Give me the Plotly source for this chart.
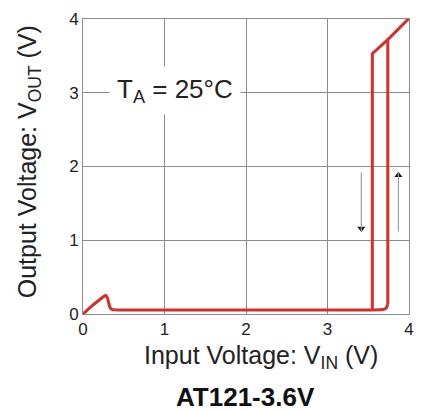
import plotly.graph_objects as go

# Rising input sweep (V_IN increasing): low-output part, then the switch-on part
vin_up_low = [0.0, 0.05, 0.12, 0.20, 0.25, 0.28, 0.30, 0.33, 0.36, 0.45, 1.0, 2.0, 3.0, 3.55,
              3.68, 3.72, 3.74]
vout_up_low = [0.0, 0.05, 0.12, 0.19, 0.235, 0.25, 0.22, 0.09, 0.06, 0.055, 0.055, 0.055, 0.055, 0.055,
               0.06, 0.08, 0.13]
vin_up_high = [3.74, 3.74, 4.0]
vout_up_high = [0.13, 3.72, 4.01]
# Falling input sweep (V_IN decreasing)
vin_down = [3.74, 3.55, 3.55]
vout_down = [3.72, 3.53, 0.055]

x_ticks = [0, 1, 2, 3, 4]
y_ticks = [0, 1, 2, 3, 4]

# hysteresis direction arrows (x, y_start, y_end)
arrow_down = (3.415, 1.92, 1.12)
arrow_up = (3.87, 1.12, 1.92)

RED = "#d3302c"
GRID = "#8c8c8c"
FONT = "Arial, Liberation Sans, sans-serif"

fig = go.Figure()
fig.add_trace(go.Scatter(x=vin_up_low, y=vout_up_low, mode="lines",
                         line=dict(color=RED, width=3, shape="spline", smoothing=0.3),
                         showlegend=False, hoverinfo="skip"))
fig.add_trace(go.Scatter(x=vin_up_high, y=vout_up_high, mode="lines",
                         line=dict(color=RED, width=3), showlegend=False, hoverinfo="skip"))
fig.add_trace(go.Scatter(x=vin_down, y=vout_down, mode="lines",
                         line=dict(color=RED, width=3), showlegend=False, hoverinfo="skip"))

for (ax_x, y0, y1) in (arrow_down, arrow_up):
    fig.add_shape(type="line", x0=ax_x, x1=ax_x, y0=y0, y1=y1,
                  line=dict(color="#a0a0a0", width=1.2), layer="above")
fig.add_trace(go.Scatter(x=[arrow_down[0]], y=[arrow_down[2] + 0.04], mode="markers",
                         marker=dict(symbol="triangle-down", size=7, color="#111"),
                         showlegend=False, hoverinfo="skip"))
fig.add_trace(go.Scatter(x=[arrow_up[0]], y=[arrow_up[2] - 0.04], mode="markers",
                         marker=dict(symbol="triangle-up", size=7, color="#111"),
                         showlegend=False, hoverinfo="skip"))

fig.add_annotation(x=1.13, y=3.03, xref="x", yref="y",
                   text="T<sub>A</sub> = 25°C", showarrow=False,
                   font=dict(family=FONT, size=26, color="#222"),
                   bgcolor="white", borderpad=7)

fig.add_annotation(x=0.547, y=-0.145, xref="paper", yref="paper",
                   text="Input Voltage: V<sub>IN</sub> (V)", showarrow=False,
                   font=dict(family=FONT, size=25, color="#222"),
                   xanchor="center", yanchor="middle")
fig.add_annotation(x=-0.165, y=0.515, xref="paper", yref="paper",
                   text="Output Voltage: V<sub>OUT</sub> (V)", showarrow=False, textangle=-90,
                   font=dict(family=FONT, size=25, color="#222"),
                   xanchor="center", yanchor="middle")
fig.add_annotation(x=0.497, y=-0.28, xref="paper", yref="paper",
                   text="<b>AT121-3.6V</b>", showarrow=False,
                   font=dict(family=FONT, size=26, color="#111"),
                   xanchor="center", yanchor="middle")

fig.update_xaxes(range=[0, 4], tickvals=x_ticks, ticktext=[str(v) for v in x_ticks],
                 showgrid=True, gridcolor=GRID, gridwidth=1,
                 showline=True, linecolor=GRID, linewidth=1, mirror=True,
                 zeroline=False, ticks="", tickfont=dict(family=FONT, size=17, color="#222"))
fig.update_yaxes(range=[0, 4], tickvals=y_ticks, ticktext=[str(v) for v in y_ticks],
                 showgrid=True, gridcolor=GRID, gridwidth=1,
                 showline=True, linecolor=GRID, linewidth=1, mirror=True,
                 zeroline=False, ticks="", tickfont=dict(family=FONT, size=17, color="#222"))

fig.update_layout(width=424, height=412, margin=dict(l=83, r=10, t=14, b=98),
                  plot_bgcolor="white", paper_bgcolor="white")

fig.write_html("out.html")
